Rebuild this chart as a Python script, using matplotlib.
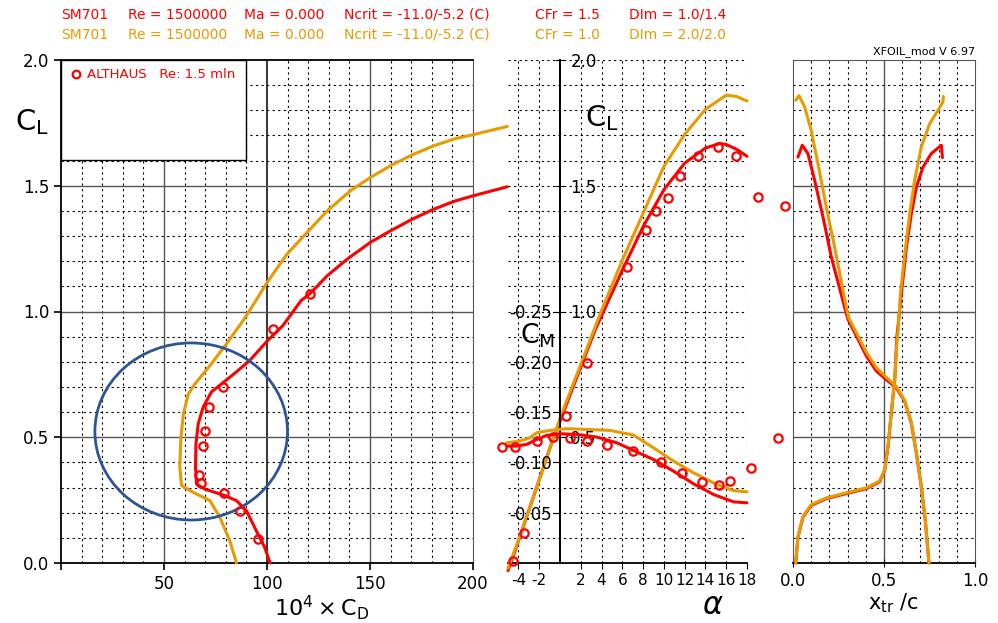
import matplotlib
matplotlib.use('Agg')
import matplotlib.pyplot as plt
import numpy as np
from matplotlib.patches import Ellipse, Rectangle

plt.rcParams['font.family'] = ['DejaVu Sans']
plt.rcParams['axes.unicode_minus'] = False

RED = '#ff0000'
ORG = '#e89b00'
BLUE = '#2f5496'

# ---- polar CL - CD (10^4 * CD) ----
cd_red = [101.5, 98.9, 95.6, 90.0, 85.2, 79.5, 69.8, 65.8, 65.3, 65.5, 66.6, 69.0, 73.0,
          77.9, 85.0, 91.6, 100.0, 107.7, 116.6, 121.0, 129.2, 138.9, 150.2, 160.0,
          170.5, 181.0, 190.8, 200.0, 216.7]
cl_red = [0.0, 0.062, 0.115, 0.208, 0.248, 0.268, 0.294, 0.314, 0.38, 0.473, 0.553, 0.62, 0.68,
          0.712, 0.759, 0.805, 0.882, 0.944, 1.044, 1.072, 1.142, 1.208, 1.275, 1.321,
          1.367, 1.407, 1.438, 1.46, 1.496]
cd_org = [85.2, 81.9, 77.1, 72.3, 64.2, 58.5, 57.7, 58.1, 59.4, 61.8, 65.0, 72.3, 80.3, 88.4,
          93.5, 100.0, 109.7, 119.4, 129.2, 140.5, 150.2, 160.0, 170.5, 181.0, 190.8, 200.0, 216.7]
cl_org = [0.0, 0.089, 0.182, 0.248, 0.281, 0.308, 0.381, 0.487, 0.593, 0.672, 0.712, 0.785, 0.871,
          0.964, 1.029, 1.115, 1.228, 1.314, 1.40, 1.48, 1.533, 1.58, 1.623, 1.659, 1.686, 1.703, 1.736]
cd_exp = [95.6, 86.8, 79.0, 67.9, 67.1, 69.0, 70.0, 71.9, 78.7, 103.0, 121.0]
cl_exp = [0.095, 0.206, 0.277, 0.317, 0.351, 0.464, 0.523, 0.619, 0.698, 0.93, 1.069]

# ---- CL - alpha ----
a_red = [-5.0, -4.34, -2.25, -0.64, 0.0, 1.6, 3.38, 6.0, 8.0, 10.0, 12.0, 14.0, 15.4, 16.0, 17.0, 18.0]
cla_red = [-0.03, 0.046, 0.30, 0.497, 0.563, 0.736, 0.926, 1.164, 1.337, 1.484, 1.59, 1.65,
           1.668, 1.664, 1.645, 1.617]
a_org = [-5.0, -4.0, -2.0, 0.0, 2.0, 4.0, 6.0, 8.0, 10.0, 12.0, 14.0, 16.0, 17.0, 18.0]
cla_org = [-0.02, 0.09, 0.33, 0.575, 0.79, 1.004, 1.204, 1.39, 1.577, 1.704, 1.804, 1.86, 1.855, 1.837]
a_exp = [-4.5, -3.47, 0.55, 2.64, 6.47, 8.27, 9.29, 10.38, 11.6, 13.33, 15.22, 16.9, 19.07, 21.7]
cla_exp = [0.007, 0.119, 0.585, 0.796, 1.177, 1.324, 1.401, 1.453, 1.54, 1.617, 1.653, 1.617, 1.455, 1.42]

# ---- CM - alpha ----
am_red = [-5.14, -4.28, -3.2, -2.25, -1.29, 0.0, 1.6, 3.54, 5.47, 7.07, 9.0, 10.93, 12.86, 14.79, 16.7, 18.0]
cm_red = [-0.1162, -0.1162, -0.1179, -0.1228, -0.1268, -0.1285, -0.1278, -0.1252, -0.1195,
          -0.1119, -0.1029, -0.0913, -0.0787, -0.0681, -0.0608, -0.0598]
am_org = [-5.14, -3.86, -2.9, -2.25, -0.96, 0.64, 2.57, 4.82, 7.07, 9.0, 10.93, 12.86, 15.1, 16.7, 18.0]
cm_org = [-0.1195, -0.1212, -0.1245, -0.1295, -0.1318, -0.1335, -0.1328, -0.1318, -0.1272,
          -0.1145, -0.1013, -0.0896, -0.078, -0.072, -0.0707]
am_exp = [-5.53, -4.28, -2.25, -0.64, 0.96, 2.64, 4.5, 7.0, 9.71, 11.74, 13.67, 15.27, 16.33, 18.39, 21.0]
cm_exp = [-0.1152, -0.1152, -0.1212, -0.1252, -0.1245, -0.1212, -0.1172, -0.1112, -0.1003,
          -0.0896, -0.0807, -0.078, -0.0813, -0.0946, -0.1245]

# ---- transition x_tr/c - CL ----
xt_top_red = [0.747, 0.727, 0.705, 0.678, 0.650, 0.614, 0.568, 0.513, 0.458, 0.403, 0.348, 0.302,
              0.284, 0.211, 0.165, 0.119, 0.082, 0.051, 0.027]
ct_top_red = [0.0, 0.169, 0.303, 0.436, 0.556, 0.643, 0.696, 0.729, 0.763, 0.823, 0.903, 0.969,
              1.016, 1.215, 1.375, 1.521, 1.628, 1.661, 1.614]
xt_top_org = [0.747, 0.727, 0.705, 0.678, 0.650, 0.614, 0.570, 0.515, 0.460, 0.405, 0.352, 0.306,
              0.293, 0.229, 0.183, 0.137, 0.100, 0.064, 0.033, 0.015]
ct_top_org = [0.0, 0.169, 0.303, 0.436, 0.556, 0.645, 0.700, 0.737, 0.775, 0.835, 0.910, 0.975,
              1.016, 1.255, 1.415, 1.588, 1.72, 1.814, 1.858, 1.84]
xt_bot_red = [0.015, 0.027, 0.055, 0.100, 0.183, 0.293, 0.403, 0.476, 0.504, 0.522, 0.540, 0.559,
              0.571, 0.581, 0.595, 0.623, 0.650, 0.678, 0.714, 0.760, 0.815, 0.821]
ct_bot_red = [0.0, 0.103, 0.183, 0.229, 0.256, 0.276, 0.296, 0.323, 0.369, 0.463, 0.596, 0.729,
              0.903, 0.969, 1.069, 1.255, 1.388, 1.495, 1.574, 1.628, 1.661, 1.612]
xt_bot_org = [0.015, 0.027, 0.055, 0.100, 0.183, 0.293, 0.403, 0.476, 0.504, 0.522, 0.540, 0.559,
              0.571, 0.577, 0.590, 0.614, 0.641, 0.668, 0.705, 0.751, 0.797, 0.824, 0.826]
ct_bot_org = [0.0, 0.105, 0.186, 0.232, 0.259, 0.279, 0.299, 0.326, 0.372, 0.466, 0.599, 0.732,
              0.880, 0.923, 1.069, 1.229, 1.388, 1.521, 1.654, 1.747, 1.80, 1.834, 1.855]

W, H = 998, 623
fig = plt.figure(figsize=(W / 100, H / 100), dpi=100)


def box(x0, x1, y0=60, y1=563):
    return [x0 / W, 1 - y1 / H, (x1 - x0) / W, (y1 - y0) / H]


DOT = dict(color='black', lw=0.8, ls=(0, (2, 3)), zorder=1)
SOLID = dict(color='#555555', lw=1.0, zorder=1)
CURVE = dict(lw=2.2, clip_on=False, solid_capstyle='round')
MARK = dict(ls='none', marker='o', ms=6.0, mfc='none', mec=RED, mew=1.6, clip_on=False, zorder=6)

# ================= left: polar =================
ax1 = fig.add_axes(box(61, 473))
ax1.set_xlim(0, 200)
ax1.set_ylim(0, 2)
for v in np.arange(10, 200, 10):
    if v in (50, 150):
        ax1.axvline(v, **SOLID)
    elif v == 100:
        ax1.axvline(v, color='black', lw=1.1, zorder=1)
    else:
        ax1.axvline(v, **DOT)
for v in np.arange(1, 20) / 10:
    if round(v * 10) % 5 == 0:
        ax1.axhline(v, **SOLID)
    else:
        ax1.axhline(v, **DOT)
for s in ['left', 'bottom', 'top']:
    ax1.spines[s].set_linewidth(1.3)
ax1.spines['right'].set_color('#555555')
ax1.set_xticks([0, 50, 100, 150, 200])
ax1.set_xticklabels(['', '50', '100', '150', '200'])
ax1.set_yticks([0, 0.5, 1.0, 1.5, 2.0])
ax1.set_yticklabels(['0.0', '0.5', '1.0', '1.5', '2.0'])
ax1.tick_params(labelsize=12, length=5, width=1.2)

ax1.add_patch(Rectangle((0, 0.801), 0.449, 0.199, transform=ax1.transAxes,
                        fc='white', ec='black', lw=1.0, zorder=3))
ax1.plot([0.036], [0.972], transform=ax1.transAxes, **{**MARK, 'ms': 5.5})
ax1.text(0.063, 0.972, 'ALTHAUS   Re: 1.5 mln', transform=ax1.transAxes, color=RED,
         fontsize=9.5, va='center', ha='left', zorder=7)

ax1.plot(cd_red, cl_red, color=RED, zorder=4, **CURVE)
ax1.plot(cd_org, cl_org, color=ORG, zorder=4, **CURVE)
ax1.plot(cd_exp, cl_exp, **MARK)
ax1.add_patch(Ellipse((63.2, 0.523), 93.5, 0.704, fc='none', ec=BLUE, lw=2, zorder=5))

# ================= middle: CL / CM vs alpha =================
ax2 = fig.add_axes(box(508, 747))
ax2m = ax2.twinx()   # twinx moves ax2 ticks to the left, so set ax2 up afterwards
ax2.set_xlim(-5, 18)
ax2.set_ylim(0, 2)
ax2.patch.set_alpha(0)
for v in [-4, -2, 2, 4, 6, 8, 10, 12, 14, 16, 18]:
    ax2.axvline(v, **DOT)
for v in np.arange(1, 21) / 10:
    ax2.axhline(v, **DOT)
ax2.spines['top'].set_visible(False)
ax2.spines['left'].set_visible(False)
ax2.spines['right'].set_position(('data', 0))
ax2.spines['right'].set_linewidth(1.3)
ax2.spines['bottom'].set_linewidth(1.3)
ax2.yaxis.tick_right()
ax2.set_yticks([0.5, 1.0, 1.5, 2.0])
ax2.set_yticklabels(['0.5', '1.0', '1.5', '2.0'])
ax2.tick_params(axis='y', direction='inout', length=7, pad=4, labelsize=12)
xt = [-4, -2, 2, 4, 6, 8, 10, 12, 14, 16, 18]
ax2.set_xticks(xt)
ax2.set_xticklabels([str(v) for v in xt])
ax2.tick_params(axis='x', direction='out', length=4, labelsize=11, pad=3)

ax2m.set_ylim(0, -0.5)
for s in ['top', 'right', 'bottom']:
    ax2m.spines[s].set_visible(False)
ax2m.spines['left'].set_position(('data', 0))
ax2m.spines['left'].set_linewidth(1.3)
ax2m.yaxis.tick_left()
ax2m.set_yticks([-0.05, -0.10, -0.15, -0.20, -0.25])
ax2m.set_yticklabels(['-0.05', '-0.10', '-0.15', '-0.20', '-0.25'])
ax2m.tick_params(axis='y', direction='out', length=4, pad=2, labelsize=12)

ax2.plot(a_red, cla_red, color=RED, zorder=4, **CURVE)
ax2.plot(a_org, cla_org, color=ORG, zorder=4, **CURVE)
ax2m.plot(am_red, cm_red, color=RED, zorder=4, **CURVE)
ax2m.plot(am_org, cm_org, color=ORG, zorder=4, **CURVE)
ax2.plot(a_exp, cla_exp, **MARK)
ax2m.plot(am_exp, cm_exp, **MARK)

# ================= right: transition =================
ax3 = fig.add_axes(box(793, 975))
ax3.set_xlim(0, 1)
ax3.set_ylim(0, 2)
for v in np.arange(1, 10) / 10:
    if round(v * 10) == 5:
        ax3.axvline(v, **SOLID)
    else:
        ax3.axvline(v, **DOT)
for v in np.arange(1, 20) / 10:
    if round(v * 10) % 5 == 0:
        ax3.axhline(v, **SOLID)
    else:
        ax3.axhline(v, **DOT)
for s in ['left', 'right', 'top']:
    ax3.spines[s].set_color('#555555')
ax3.spines['bottom'].set_linewidth(1.3)
ax3.set_yticks([])
ax3.set_xticks([0, 0.5, 1.0])
ax3.set_xticklabels(['0.0', '0.5', '1.0'])
ax3.tick_params(axis='x', direction='inout', length=6, labelsize=12)

ax3.plot(xt_top_red, ct_top_red, color=RED, zorder=4, **CURVE)
ax3.plot(xt_bot_red, ct_bot_red, color=RED, zorder=4, **CURVE)
ax3.plot(xt_top_org, ct_top_org, color=ORG, zorder=4, **CURVE)
ax3.plot(xt_bot_org, ct_bot_org, color=ORG, zorder=4, **CURVE)

# ================= texts =================
fig.text(32 / W, 1 - 122 / H, r'$\mathregular{C_L}$', fontsize=21, ha='center', va='center')
fig.text(322 / W, 1 - 608 / H, r'$\mathregular{10^4 \times C_D}$', fontsize=16, ha='center', va='center')
fig.text(602 / W, 1 - 118 / H, r'$\mathregular{C_L}$', fontsize=21, ha='center', va='center')
fig.text(537 / W, 1 - 336 / H, r'$\mathregular{C_M}$', fontsize=19, ha='center', va='center')
fig.text(713 / W, 1 - 606 / H, r'$\alpha$', fontsize=22, ha='center', va='center')
fig.text(893 / W, 1 - 603 / H, r'$\mathregular{x_{tr}}$ /c', fontsize=15, ha='center', va='center')
fig.text(975 / W, 1 - 52 / H, 'XFOIL_mod V 6.97', fontsize=8, ha='right', va='center')

title_x = [61, 128, 244, 344, 535, 629]
title_red = ['SM701', 'Re = 1500000', 'Ma = 0.000', 'Ncrit = -11.0/-5.2 (C)', 'CFr = 1.5', 'DIm = 1.0/1.4']
title_org = ['SM701', 'Re = 1500000', 'Ma = 0.000', 'Ncrit = -11.0/-5.2 (C)', 'CFr = 1.0', 'DIm = 2.0/2.0']
for x, t in zip(title_x, title_red):
    fig.text(x / W, 1 - 15 / H, t, color=RED, fontsize=10, ha='left', va='center')
for x, t in zip(title_x, title_org):
    fig.text(x / W, 1 - 35 / H, t, color=ORG, fontsize=10, ha='left', va='center')

fig.savefig('out.png', dpi=100)
